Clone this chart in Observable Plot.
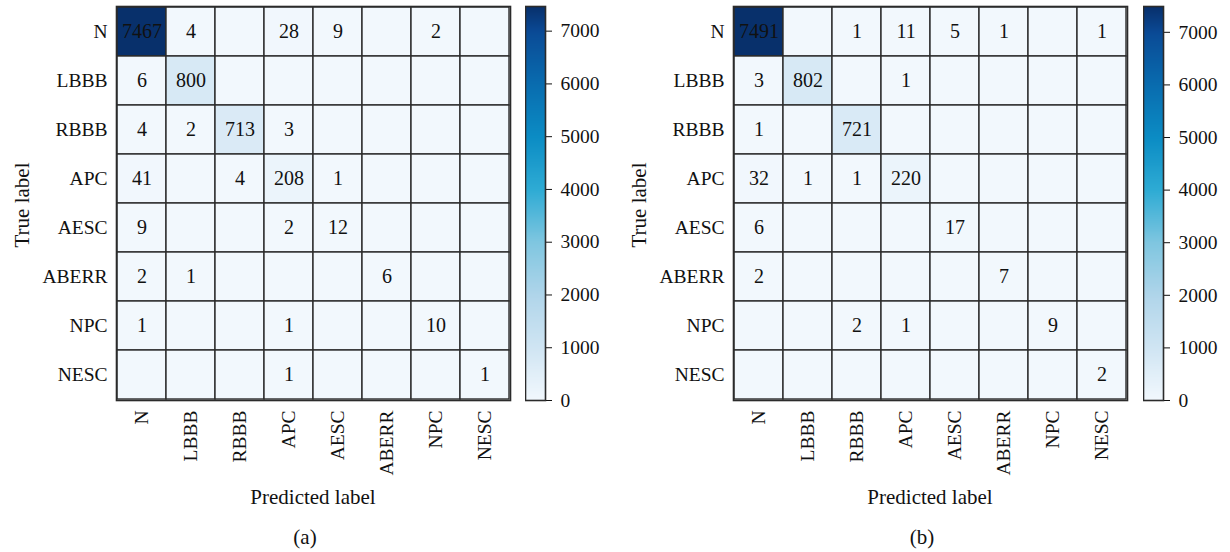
<!DOCTYPE html>
<html>
<head>
<meta charset="utf-8">
<script src="https://cdn.jsdelivr.net/npm/d3@7"></script>
<script src="https://cdn.jsdelivr.net/npm/@observablehq/plot@0.6"></script>
<style>
  html, body { margin: 0; padding: 0; background: #fff; }
  #root { position: relative; width: 1230px; height: 552px; overflow: hidden; font-family: "Liberation Serif", "DejaVu Serif", serif; color: #111; }
  .abs { position: absolute; }
  .lbl { font-size: 21px; white-space: nowrap; transform: translate(-50%, -50%); }
  .rot { transform: translate(-50%, -50%) rotate(-90deg); }
</style>
</head>
<body>
<div id="root"></div>
<script>
// ---- Data ----
const classes = ["N", "LBBB", "RBBB", "APC", "AESC", "ABERR", "NPC", "NESC"];
// rows = true label, columns = predicted label (0 = empty cell)
const matrixA = [
  [7467, 4, 0, 28, 9, 0, 2, 0],
  [6, 800, 0, 0, 0, 0, 0, 0],
  [4, 2, 713, 3, 0, 0, 0, 0],
  [41, 0, 4, 208, 1, 0, 0, 0],
  [9, 0, 0, 2, 12, 0, 0, 0],
  [2, 1, 0, 0, 0, 6, 0, 0],
  [1, 0, 0, 1, 0, 0, 10, 0],
  [0, 0, 0, 1, 0, 0, 0, 1]
];
const matrixB = [
  [7491, 0, 1, 11, 5, 1, 0, 1],
  [3, 802, 0, 1, 0, 0, 0, 0],
  [1, 0, 721, 0, 0, 0, 0, 0],
  [32, 1, 1, 220, 0, 0, 0, 0],
  [6, 0, 0, 0, 17, 0, 0, 0],
  [2, 0, 0, 0, 0, 7, 0, 0],
  [0, 0, 2, 1, 0, 0, 9, 0],
  [0, 0, 0, 0, 0, 0, 0, 2]
];
const colorbarTicks = [0, 1000, 2000, 3000, 4000, 5000, 6000, 7000];
const captions = ["(a)", "(b)"];

// ---- Styles ----
const FONT = "Liberation Serif";
const colorStops = ["#f2f8fd", "#d0e5f3", "#b0d5ea", "#7fc6e0", "#2eabd4", "#0b8cc4", "#096caf", "#0a4a95", "#08306b"];
const GRID = "#2b2b2b";

function colorOpts(max) {
  return { type: "linear", domain: [...colorbarTicks, max], range: colorStops, clamp: true };
}

function toCells(matrix) {
  const out = [];
  matrix.forEach((row, i) => row.forEach((v, j) => out.push({ t: classes[i], p: classes[j], v })));
  return out;
}

const root = document.getElementById("root");

function place(el, left, top) {
  el.style.position = "absolute";
  el.style.left = left + "px";
  el.style.top = top + "px";
  root.appendChild(el);
}
function label(text, cx, cy, rotate) {
  const d = document.createElement("div");
  d.className = "abs lbl" + (rotate ? " rot" : "");
  d.textContent = text;
  d.style.left = cx + "px";
  d.style.top = cy + "px";
  root.appendChild(d);
}

function makePanel(matrix, offsetX, cbLeft, caption, trueX) {
  const max = d3.max(matrix.flat());
  const cells = toCells(matrix);
  const H = 480;
  const m = Plot.plot({
    width: 116 + 394 + 10, height: H,
    marginLeft: 116, marginRight: 10, marginTop: 6, marginBottom: H - 400,
    style: { fontFamily: FONT, fontSize: "19px", background: "transparent", color: "#111" },
    x: { type: "band", domain: classes, padding: 0, label: null },
    y: { type: "band", domain: classes, padding: 0, label: null },
    color: colorOpts(max),
    marks: [
      Plot.cell(cells, { x: "p", y: "t", fill: "v", stroke: GRID, strokeWidth: 1.4, inset: 0 }),
      Plot.text(cells.filter(d => d.v > 0), { x: "p", y: "t", text: d => String(d.v), fontSize: 20, fill: "#111" }),
      Plot.axisX({ anchor: "bottom", tickRotate: -90, tickSize: 0, tickPadding: 10, fontSize: 19.5, label: null }),
      Plot.axisY({ anchor: "left", tickSize: 0, tickPadding: 9, fontSize: 19.5, label: null }),
      Plot.frame({ stroke: GRID, strokeWidth: 1.6 })
    ]
  });
  place(m, offsetX, 0);

  const cb = Plot.plot({
    width: 90, height: H,
    marginLeft: 0, marginRight: 70, marginTop: 6, marginBottom: H - 400,
    style: { fontFamily: FONT, fontSize: "19px", background: "transparent", color: "#111" },
    x: { domain: [0, 1], axis: null },
    y: { domain: [0, max], label: null },
    color: colorOpts(max),
    marks: [
      Plot.raster({ x1: 0, x2: 1, y1: 0, y2: max, width: 1, height: 400, fill: (x, y) => y }),
      Plot.axisY({ anchor: "right", ticks: colorbarTicks, tickFormat: d => String(d), tickSize: 6, tickPadding: 9, fontSize: 19.5, label: null }),
      Plot.frame({ stroke: GRID, strokeWidth: 1.6 })
    ]
  });
  place(cb, cbLeft, 0);

  const cx = offsetX + 116 + 197;
  label("True label", trueX, 205, true);
  label("Predicted label", cx, 497, false);
  label(caption, cx - 8, 537, false);
}

makePanel(matrixA, 0, 525, captions[0], 22);
makePanel(matrixB, 617, 1143, captions[1], 639);
</script>
</body>
</html>
